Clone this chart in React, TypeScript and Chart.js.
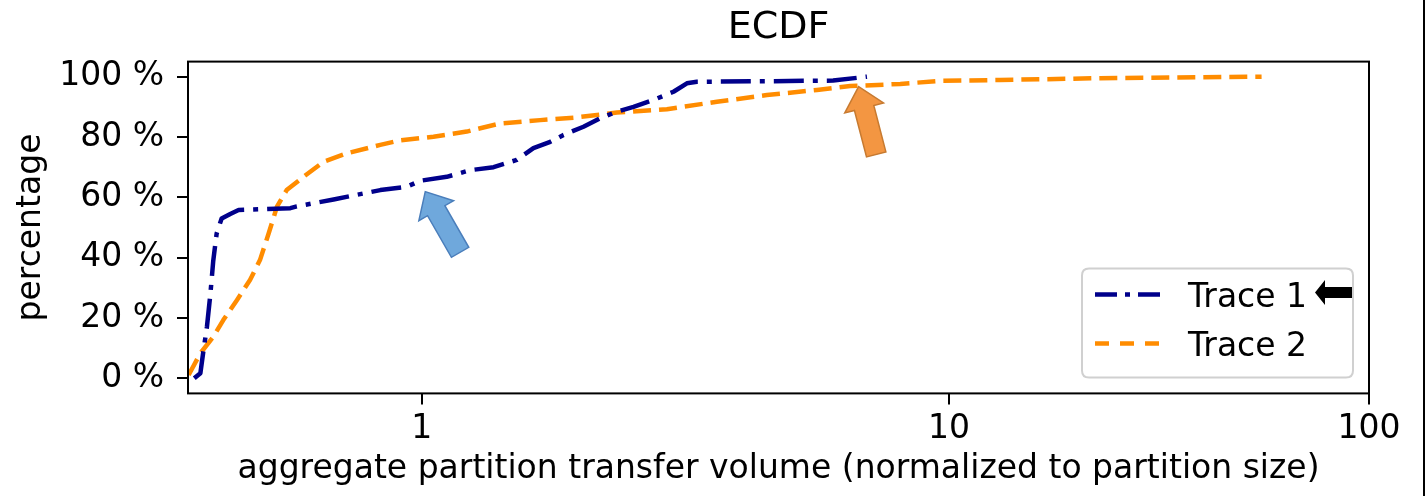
import React, { useEffect, useRef } from 'react';
import { Chart, registerables, LogarithmicScale } from 'chart.js';

// ---------- data ----------
const TITLE = 'ECDF';
const X_LABEL = 'aggregate partition transfer volume (normalized to partition size)';
const Y_LABEL = 'percentage';
const X_TICKS = [1, 10, 100];
const Y_TICKS = [0, 20, 40, 60, 80, 100];
const SERIES_LABELS = ['Trace 1', 'Trace 2'];

const TRACE1_X = [0.370, 0.380, 0.385, 0.391, 0.397, 0.402, 0.408, 0.417, 0.433, 0.449, 0.563, 0.579, 0.680, 0.834, 0.936, 0.993, 1.115, 1.235, 1.368, 1.514, 1.628, 1.752, 1.857, 2.026, 2.179, 2.344, 2.521, 2.751, 3.002, 3.183, 3.325, 6.03, 6.99];
const TRACE1_Y = [0, 1.7, 9, 17, 28, 39, 48, 53, 54.5, 55.8, 56.4, 57, 59.3, 62.4, 63.5, 65.5, 66.8, 69, 70, 72.4, 76.3, 78.4, 80.7, 83.4, 86.2, 88.4, 90, 92.3, 95, 97.8, 98.3, 98.7, 100];

const TRACE2_X = [0.361, 0.380, 0.402, 0.420, 0.446, 0.472, 0.493, 0.512, 0.531, 0.554, 0.596, 0.651, 0.721, 0.834, 0.910, 1.052, 1.217, 1.408, 1.677, 1.968, 2.344, 2.917, 3.629, 4.514, 5.618, 6.497, 8.086, 9.627, 13.23, 22.88, 39.6, 55.5];
const TRACE2_Y = [1.1, 8.3, 13.8, 19.3, 26, 32.6, 39.2, 48, 56.9, 62.4, 66.8, 71.8, 74.6, 77.4, 78.9, 80.1, 81.8, 84.5, 85.6, 86.5, 88.1, 89.2, 91.7, 93.9, 95.6, 96.9, 97.6, 98.6, 98.9, 99.5, 99.8, 100];

// annotation arrows (tip in data units)
const ARROW_TIPS_X = [1.015, 6.74];
const ARROW_TIPS_Y = [61.9, 96.7];

// ---------- styles / axis config ----------
const X_MIN = 0.36;
const X_MAX = 100;
const Y_MIN = -5;
const Y_MAX = 105;
const LAST_DECADE_SCALE = 0.797; // the 10..100 decade is drawn narrower in the reference
const FONT = "'DejaVu Sans', sans-serif";
const SERIES_COLORS = ['#00008B', '#FF8C00'];
const SERIES_DASH = [[30, 9, 5, 9], [18, 8]];
const LEGEND_DASH = [[22, 8, 5, 8], [14, 11]];
const ARROW_STYLE = [
  { dx: -35, dy: -61, fill: '#6FA8DC', stroke: '#4A7EBB' },
  { dx: -17.5, dy: -67.5, fill: '#F39642', stroke: '#C77A30' },
];

class CompressedLogScale extends LogarithmicScale {
  static id = 'compressedLog';
  static defaults = LogarithmicScale.defaults;
  _units(v: number) {
    const l = Math.log10(v);
    return l <= 1 ? l : 1 + (l - 1) * LAST_DECADE_SCALE;
  }
  getPixelForValue(value: any) {
    if (value === undefined || value === 0) value = this.min;
    if (value === null || isNaN(value) || value <= 0) return NaN;
    const u0 = this._units(this.min);
    const u1 = this._units(this.max);
    return this.getPixelForDecimal((this._units(value) - u0) / (u1 - u0));
  }
  getValueForPixel(pixel: number) {
    const u0 = this._units(this.min);
    const u1 = this._units(this.max);
    const u = u0 + this.getDecimalForPixel(pixel) * (u1 - u0);
    const l = u <= 1 ? u : 1 + (u - 1) / LAST_DECADE_SCALE;
    return Math.pow(10, l);
  }
}

Chart.register(...registerables, CompressedLogScale as any);

function drawBlockArrow(ctx: CanvasRenderingContext2D, tx: number, ty: number, dx: number, dy: number,
  length: number, headLen: number, headW: number, shaftW: number, fill: string, stroke: string) {
  const ang = Math.atan2(dy, dx);
  ctx.save();
  ctx.translate(tx, ty);
  ctx.rotate(ang);
  ctx.beginPath();
  ctx.moveTo(0, 0);
  ctx.lineTo(-headLen, headW / 2);
  ctx.lineTo(-headLen, shaftW / 2);
  ctx.lineTo(-length, shaftW / 2);
  ctx.lineTo(-length, -shaftW / 2);
  ctx.lineTo(-headLen, -shaftW / 2);
  ctx.lineTo(-headLen, -headW / 2);
  ctx.closePath();
  ctx.fillStyle = fill;
  ctx.fill();
  ctx.lineWidth = 1.5;
  ctx.strokeStyle = stroke;
  ctx.setLineDash([]);
  ctx.lineJoin = 'miter';
  ctx.stroke();
  ctx.restore();
}

const decorPlugin = {
  id: 'decor',
  afterDatasetsDraw(chart: any) {
    const { ctx, chartArea } = chart;
    const xs = chart.scales.x;
    const ys = chart.scales.y;
    ctx.save();
    // frame
    ctx.strokeStyle = '#000';
    ctx.lineWidth = 2;
    ctx.setLineDash([]);
    ctx.strokeRect(chartArea.left, chartArea.top, chartArea.right - chartArea.left, chartArea.bottom - chartArea.top);

    // annotation arrows
    ARROW_TIPS_X.forEach((vx, i) => {
      const st = ARROW_STYLE[i];
      drawBlockArrow(ctx, xs.getPixelForValue(vx), ys.getPixelForValue(ARROW_TIPS_Y[i]), st.dx, st.dy,
        70, 22, 40, 20, st.fill, st.stroke);
    });

    // legend
    const w = 271, h = 109;
    const right = chartArea.right - 16;
    const bottom = chartArea.bottom - 16;
    const left = right - w;
    const top = bottom - h;
    const r = 7;
    ctx.beginPath();
    ctx.moveTo(left + r, top);
    ctx.lineTo(right - r, top);
    ctx.quadraticCurveTo(right, top, right, top + r);
    ctx.lineTo(right, bottom - r);
    ctx.quadraticCurveTo(right, bottom, right - r, bottom);
    ctx.lineTo(left + r, bottom);
    ctx.quadraticCurveTo(left, bottom, left, bottom - r);
    ctx.lineTo(left, top + r);
    ctx.quadraticCurveTo(left, top, left + r, top);
    ctx.closePath();
    ctx.fillStyle = 'rgba(255,255,255,0.85)';
    ctx.fill();
    ctx.strokeStyle = '#d0d0d0';
    ctx.lineWidth = 2;
    ctx.stroke();

    chart.data.datasets.forEach((ds: any, i: number) => {
      const y = top + 26 + i * 49;
      ctx.beginPath();
      ctx.setLineDash(LEGEND_DASH[i]);
      ctx.lineCap = 'butt';
      ctx.strokeStyle = ds.borderColor;
      ctx.lineWidth = ds.borderWidth;
      ctx.moveTo(left + 13, y);
      ctx.lineTo(left + 80, y);
      ctx.stroke();
      ctx.setLineDash([]);
      ctx.fillStyle = '#000';
      ctx.font = `33px ${FONT}`;
      ctx.textBaseline = 'alphabetic';
      ctx.textAlign = 'left';
      ctx.fillText(ds.label, left + 106, y + 13);
    });

    // black pointer arrow next to first legend entry
    const ay = top + 24;
    const ax = left + 233;
    ctx.beginPath();
    ctx.moveTo(ax, ay);
    ctx.lineTo(ax + 10, ay - 12.5);
    ctx.lineTo(ax + 10, ay - 5.5);
    ctx.lineTo(ax + 37, ay - 5.5);
    ctx.lineTo(ax + 37, ay + 5.5);
    ctx.lineTo(ax + 10, ay + 5.5);
    ctx.lineTo(ax + 10, ay + 12.5);
    ctx.closePath();
    ctx.fillStyle = '#000';
    ctx.fill();
    ctx.restore();
  },
  afterDraw(chart: any) {
    const { ctx, width, height } = chart;
    ctx.save();
    ctx.strokeStyle = '#000';
    ctx.lineWidth = 2;
    ctx.beginPath();
    ctx.moveTo(width - 3, 0);
    ctx.lineTo(width - 3, height);
    ctx.stroke();
    ctx.restore();
  },
};

export default function App() {
  const ref = useRef<HTMLCanvasElement>(null);
  useEffect(() => {
    if (!ref.current) return;
    Chart.defaults.font.family = FONT;
    Chart.defaults.color = '#000';
    const makePoints = (xs: number[], ys: number[]) => xs.map((x, i) => ({ x, y: ys[i] }));
    const lineStyle = (i: number) => ({
      label: SERIES_LABELS[i],
      borderColor: SERIES_COLORS[i],
      backgroundColor: SERIES_COLORS[i],
      borderWidth: 4.5,
      borderDash: SERIES_DASH[i],
      borderCapStyle: 'butt',
      borderJoinStyle: 'round',
      pointRadius: 0,
      tension: 0,
      fill: false,
      xAxisID: 'x',
      yAxisID: 'y',
    });
    const chart = new Chart(ref.current, {
      type: 'line',
      data: {
        datasets: [
          { ...lineStyle(0), data: makePoints(TRACE1_X, TRACE1_Y) },
          { ...lineStyle(1), data: makePoints(TRACE2_X, TRACE2_Y) },
        ],
      },
      options: {
        responsive: false,
        animation: false,
        layout: { padding: { left: 0, right: 58, top: 0, bottom: 0 } },
        plugins: {
          legend: { display: false },
          tooltip: { enabled: false },
          title: { display: false },
        },
        scales: {
          x: {
            type: 'compressedLog' as any,
            position: 'bottom',
            min: X_MIN,
            max: X_MAX,
            bounds: 'data',
            border: { display: false },
            grid: { display: true, drawOnChartArea: false, drawTicks: true, tickLength: 11, color: '#000', lineWidth: 2 },
            ticks: {
              autoSkip: false,
              maxRotation: 0,
              padding: 5.4,
              color: '#000',
              font: { size: 33, family: FONT },
              callback: (v: any) => String(v),
            },
            afterBuildTicks: (scale: any) => {
              scale.ticks = X_TICKS.map((v) => ({ value: v }));
            },
            afterFit: (scale: any) => {
              scale.height = 496 - 393.4;
            },
            title: {
              display: true,
              text: X_LABEL,
              color: '#000',
              font: { size: 33, family: FONT },
              padding: { top: 0, bottom: 6.6 },
            },
          } as any,
          titleAxis: {
            type: 'linear',
            position: 'top',
            min: 0,
            max: 1,
            border: { display: false },
            grid: { display: false, drawTicks: false },
            ticks: { display: false },
            afterFit: (scale: any) => {
              scale.height = 61.6;
            },
            title: {
              display: true,
              text: TITLE,
              color: '#000',
              font: { size: 38, family: FONT },
              padding: { top: 5.8, bottom: 0 },
            },
          } as any,
          y: {
            type: 'linear',
            min: Y_MIN,
            max: Y_MAX,
            bounds: 'data',
            border: { display: false },
            grid: { display: true, drawOnChartArea: false, drawTicks: true, tickLength: 11, color: '#000', lineWidth: 2 },
            ticks: {
              padding: 13,
              color: '#000',
              font: { size: 33, family: FONT },
              callback: (v: any) => `${v} %`,
            },
            afterBuildTicks: (scale: any) => {
              scale.ticks = Y_TICKS.map((v) => ({ value: v }));
            },
            afterFit: (scale: any) => {
              scale.width = 188;
            },
            title: {
              display: true,
              text: Y_LABEL,
              color: '#000',
              font: { size: 33, family: FONT },
              padding: { top: 11.8, bottom: 0 },
            },
          },
        },
      },
      plugins: [decorPlugin],
    } as any);
    return () => chart.destroy();
  }, []);
  return (
    <div style={{ position: 'fixed', left: 0, top: 0, width: 1427, height: 496, background: '#fff' }}>
      <canvas ref={ref} width={1427} height={496} style={{ display: 'block' }} />
    </div>
  );
}
